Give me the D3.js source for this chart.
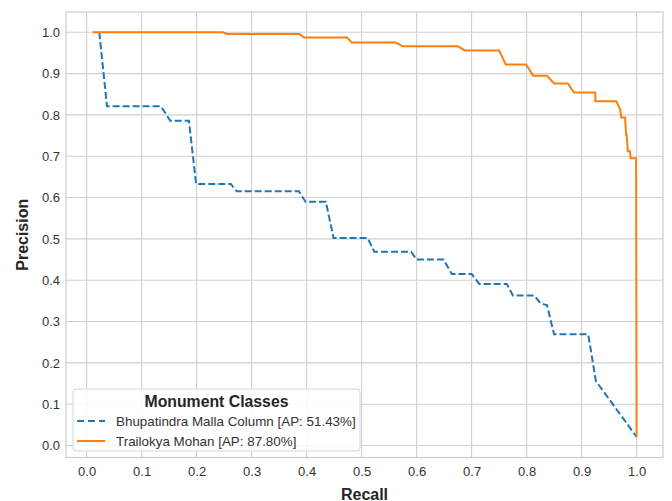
<!DOCTYPE html>
<html>
<head>
<meta charset="utf-8">
<script src="https://cdn.jsdelivr.net/npm/d3@7"></script>
<style>
  body { margin: 0; background: #fff; }
  text { font-family: "Liberation Sans", Arial, sans-serif; }
</style>
</head>
<body>
<div id="chart"></div>
<script>
// Chart size
const WIDTH = 672;
const HEIGHT = 501;
const PLOT = { left: 66, top: 12, right: 663, bottom: 457.5 };

// Data
const blueRecall =    [0.023, 0.037, 0.135, 0.152, 0.186, 0.199, 0.262, 0.273, 0.386, 0.398, 0.435, 0.449, 0.511, 0.523, 0.590, 0.600, 0.649, 0.664, 0.700, 0.714, 0.764, 0.775, 0.814, 0.826, 0.837, 0.850, 0.912, 0.926, 1.000];
const bluePrecision = [1.000, 0.821, 0.821, 0.786, 0.786, 0.633, 0.633, 0.615, 0.615, 0.590, 0.590, 0.502, 0.502, 0.469, 0.469, 0.450, 0.450, 0.415, 0.415, 0.391, 0.391, 0.363, 0.363, 0.343, 0.340, 0.269, 0.269, 0.156, 0.021];

const orangeRecall =    [0.011, 0.248, 0.255, 0.387, 0.395, 0.474, 0.482, 0.562, 0.575, 0.675, 0.688, 0.750, 0.762, 0.799, 0.812, 0.837, 0.850, 0.875, 0.886, 0.925, 0.925, 0.963, 0.970, 0.972, 0.979, 0.981, 0.982, 0.984, 0.988, 0.989, 0.999, 1.000];
const orangePrecision = [1.000, 1.000, 0.996, 0.996, 0.987, 0.987, 0.975, 0.975, 0.966, 0.966, 0.956, 0.956, 0.922, 0.922, 0.895, 0.895, 0.876, 0.876, 0.854, 0.854, 0.833, 0.833, 0.814, 0.794, 0.794, 0.751, 0.751, 0.712, 0.712, 0.695, 0.695, 0.021];

const seriesNames = ["Bhupatindra Malla Column [AP: 51.43%]", "Trailokya Mohan [AP: 87.80%]"];
const xTicks = [0, 0.1, 0.2, 0.3, 0.4, 0.5, 0.6, 0.7, 0.8, 0.9, 1.0];
const yTicks = [0, 0.1, 0.2, 0.3, 0.4, 0.5, 0.6, 0.7, 0.8, 0.9, 1.0];

const BLUE = "#1f77b4";
const ORANGE = "#ff7f0e";
const GRID = "#d0d0d0";

const svg = d3.select("#chart")
    .append("svg")
    .attr("width", WIDTH)
    .attr("height", HEIGHT);

const x = d3.scaleLinear().domain([-0.0375, 1.048]).range([PLOT.left, PLOT.right]);
const y = d3.scaleLinear().domain([-0.029, 1.049]).range([PLOT.bottom, PLOT.top]);

// Grid lines
svg.append("g")
    .selectAll("line")
    .data(xTicks)
    .join("line")
    .attr("x1", d => x(d)).attr("x2", d => x(d))
    .attr("y1", PLOT.top).attr("y2", PLOT.bottom)
    .attr("stroke", GRID).attr("stroke-width", 1.1);

svg.append("g")
    .selectAll("line")
    .data(yTicks)
    .join("line")
    .attr("x1", PLOT.left).attr("x2", PLOT.right)
    .attr("y1", d => y(d)).attr("y2", d => y(d))
    .attr("stroke", GRID).attr("stroke-width", 1.1);

// Axes (tick labels only, seaborn whitegrid style)
const xAxis = svg.append("g")
    .attr("transform", `translate(0,${PLOT.bottom})`)
    .call(d3.axisBottom(x).tickValues(xTicks).tickFormat(d3.format(".1f")).tickSize(0).tickPadding(9));
const yAxis = svg.append("g")
    .attr("transform", `translate(${PLOT.left},0)`)
    .call(d3.axisLeft(y).tickValues(yTicks).tickFormat(d3.format(".1f")).tickSize(0).tickPadding(6));

[xAxis, yAxis].forEach(a => {
    a.select(".domain").remove();
    a.selectAll("text")
        .attr("font-size", 13)
        .attr("fill", "#333")
        .style("font-family", "'Liberation Sans', Arial, sans-serif");
});

// Frame
svg.append("rect")
    .attr("x", PLOT.left).attr("y", PLOT.top)
    .attr("width", PLOT.right - PLOT.left)
    .attr("height", PLOT.bottom - PLOT.top)
    .attr("fill", "none")
    .attr("stroke", "#cccccc")
    .attr("stroke-width", 1.2);

// Curves
const line = d3.line().x(d => x(d[0])).y(d => y(d[1]));

svg.append("path")
    .datum(d3.zip(blueRecall, bluePrecision))
    .attr("d", line)
    .attr("fill", "none")
    .attr("stroke", BLUE)
    .attr("stroke-width", 2)
    .attr("stroke-dasharray", "7,3");

svg.append("path")
    .datum(d3.zip(orangeRecall, orangePrecision))
    .attr("d", line)
    .attr("fill", "none")
    .attr("stroke", ORANGE)
    .attr("stroke-width", 2);

// Axis labels
svg.append("text")
    .attr("x", (PLOT.left + PLOT.right) / 2)
    .attr("y", 499.5)
    .attr("text-anchor", "middle")
    .attr("font-size", 16)
    .attr("font-weight", "bold")
    .attr("fill", "#262626")
    .text("Recall");

svg.append("text")
    .attr("transform", `translate(28,${(PLOT.top + PLOT.bottom) / 2}) rotate(-90)`)
    .attr("text-anchor", "middle")
    .attr("font-size", 16)
    .attr("font-weight", "bold")
    .attr("fill", "#262626")
    .text("Precision");

// Legend
const legend = svg.append("g").attr("transform", "translate(73,389)");
legend.append("rect")
    .attr("width", 287).attr("height", 62)
    .attr("rx", 3)
    .attr("fill", "#fff").attr("fill-opacity", 0.85)
    .attr("stroke", "#d6d6d6");
legend.append("text")
    .attr("x", 143.5).attr("y", 17.5)
    .attr("text-anchor", "middle")
    .attr("font-size", 15.8)
    .attr("font-weight", "bold")
    .attr("fill", "#262626")
    .text("Monument Classes");

const styles = [{ color: BLUE, dash: "7,4" }, { color: ORANGE, dash: null }];
seriesNames.forEach((name, i) => {
    const row = legend.append("g").attr("transform", `translate(0,${32 + i * 20})`);
    row.append("line")
        .attr("x1", 4).attr("x2", 32)
        .attr("stroke", styles[i].color)
        .attr("stroke-width", 2)
        .attr("stroke-dasharray", styles[i].dash);
    row.append("text")
        .attr("x", 43).attr("y", 4.8)
        .attr("font-size", 13.4)
        .attr("fill", "#333")
        .text(name);
});
</script>
</body>
</html>
